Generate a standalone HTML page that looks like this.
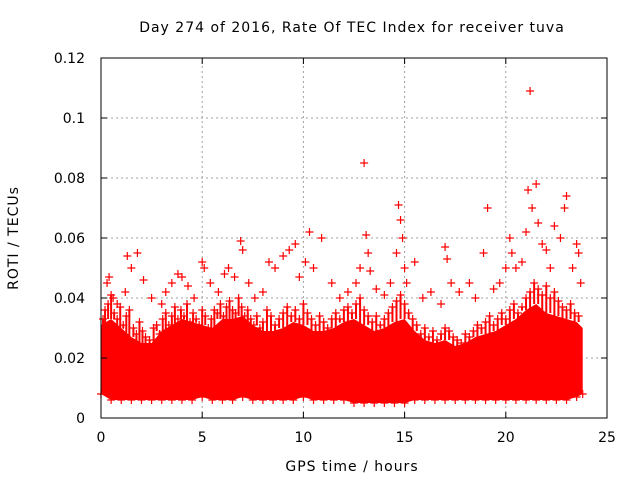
<!DOCTYPE html>
<html><head><meta charset="utf-8"><style>
body{margin:0;background:#fff}
svg text{font-family:"DejaVu Sans","Liberation Sans",sans-serif;font-size:14px;fill:#000}
.sp{letter-spacing:1px}
</style></head><body>
<svg width="640" height="480" id="c" xmlns="http://www.w3.org/2000/svg">
<text class="sp" x="352" y="32" text-anchor="middle">Day 274 of 2016, Rate Of TEC Index for receiver tuva</text>
<text class="sp" x="352" y="471" text-anchor="middle">GPS time / hours</text>
<text class="sp" transform="translate(18,238) rotate(-90)" text-anchor="middle">ROTI / TECUs</text>
<g id="grid"></g><g id="band"></g><g id="pts"></g><g id="axes"></g>
</svg>
<script>
const xTicks=[0,5,10,15,20,25];
const yTicks=[0,0.02,0.04,0.06,0.08,0.1,0.12];
const yTickLabels=["0","0.02","0.04","0.06","0.08","0.1","0.12"];
// dense band: hour, lower, upper ROTI
const bandHours=[0,0.5,1,1.5,2,2.5,3,3.5,4,4.5,5,5.5,6,6.5,7,7.5,8,8.5,9,9.5,10,10.5,11,11.5,12,12.5,13,13.5,14,14.5,15,15.5,16,16.5,17,17.5,18,18.5,19,19.5,20,20.5,21,21.5,22,22.5,23,23.5,23.8];
const bandLow=[0.008,0.006,0.006,0.006,0.006,0.006,0.006,0.006,0.006,0.006,0.007,0.006,0.006,0.006,0.007,0.006,0.006,0.006,0.006,0.006,0.007,0.006,0.006,0.006,0.006,0.005,0.005,0.005,0.005,0.005,0.005,0.006,0.006,0.006,0.006,0.006,0.006,0.006,0.006,0.006,0.006,0.006,0.006,0.006,0.006,0.006,0.006,0.007,0.008];
const bandHigh=[0.031,0.033,0.03,0.027,0.025,0.025,0.029,0.031,0.033,0.032,0.031,0.03,0.033,0.033,0.034,0.031,0.029,0.029,0.03,0.032,0.031,0.029,0.029,0.03,0.032,0.033,0.031,0.029,0.03,0.032,0.033,0.029,0.026,0.025,0.026,0.024,0.025,0.027,0.028,0.029,0.031,0.033,0.036,0.038,0.035,0.034,0.033,0.032,0.03];
const ptHours=[0.3,0.4,0.6,0.8,1.2,1.5,1.3,1.8,2.1,2.5,3,3.2,3.5,3.8,4,4.3,4.6,5,5.1,5.4,5.8,6.1,6.3,6.6,6.9,7,7.3,7.6,8,8.3,8.6,9,9.3,9.6,9.8,10.1,10.3,10.5,10.9,11.4,11.8,12.2,12.6,12.8,13,13.1,13.2,13.3,13.6,14,14.3,14.6,14.7,14.8,14.9,15,15.1,15.5,15.9,16.3,16.8,17,17.1,17.3,17.7,18.2,18.5,18.9,19.1,19.4,19.7,20,20.3,20.2,20.5,20.8,21,21.1,21.2,21.3,21.5,21.6,21.8,22,22.2,22.4,22.7,22.9,23,23.3,23.5,23.6,23.7];
const ptValues=[0.045,0.047,0.04,0.038,0.042,0.05,0.054,0.055,0.046,0.04,0.038,0.042,0.045,0.048,0.047,0.044,0.04,0.052,0.05,0.045,0.042,0.048,0.05,0.047,0.059,0.056,0.045,0.04,0.042,0.052,0.05,0.054,0.056,0.058,0.047,0.052,0.062,0.05,0.06,0.045,0.04,0.042,0.045,0.05,0.085,0.061,0.055,0.049,0.043,0.041,0.045,0.055,0.071,0.066,0.06,0.05,0.045,0.052,0.04,0.042,0.038,0.057,0.053,0.045,0.042,0.045,0.04,0.055,0.07,0.043,0.045,0.05,0.055,0.06,0.05,0.052,0.062,0.076,0.109,0.07,0.078,0.065,0.058,0.056,0.05,0.064,0.06,0.07,0.074,0.05,0.058,0.055,0.045];
// mid-level scatter just above the dense band
const midHours=[0.1,0.2,0.35,0.5,0.65,0.8,0.95,1.1,1.25,1.4,1.6,1.75,1.9,2.05,2.2,2.4,2.6,2.75,2.9,3.05,3.2,3.35,3.5,3.65,3.8,3.95,4.1,4.25,4.4,4.55,4.7,4.85,5.0,5.15,5.3,5.45,5.6,5.75,5.9,6.05,6.2,6.35,6.5,6.65,6.8,6.95,7.1,7.25,7.4,7.55,7.7,7.85,8.0,8.2,8.4,8.6,8.8,9.0,9.2,9.4,9.6,9.8,10.0,10.2,10.4,10.6,10.8,11.0,11.2,11.4,11.6,11.8,12.0,12.2,12.4,12.6,12.8,13.0,13.2,13.4,13.6,13.8,14.0,14.2,14.4,14.6,14.8,15.0,15.2,15.4,15.6,15.8,16.0,16.2,16.4,16.6,16.8,17.0,17.2,17.4,17.6,17.8,18.0,18.2,18.4,18.6,18.8,19.0,19.2,19.4,19.6,19.8,20.0,20.2,20.4,20.6,20.8,21.0,21.2,21.4,21.6,21.8,22.0,22.2,22.4,22.6,22.8,23.0,23.2,23.4,23.6];
const midValues=[0.033,0.036,0.038,0.041,0.035,0.033,0.037,0.031,0.034,0.036,0.03,0.028,0.032,0.029,0.027,0.026,0.03,0.031,0.028,0.033,0.035,0.031,0.034,0.037,0.033,0.036,0.034,0.038,0.032,0.035,0.033,0.031,0.036,0.034,0.03,0.033,0.036,0.035,0.038,0.034,0.037,0.039,0.036,0.035,0.04,0.037,0.034,0.036,0.033,0.031,0.034,0.03,0.032,0.036,0.034,0.031,0.033,0.035,0.037,0.034,0.036,0.033,0.038,0.035,0.033,0.031,0.034,0.032,0.03,0.033,0.035,0.033,0.036,0.037,0.035,0.038,0.04,0.036,0.034,0.032,0.034,0.031,0.033,0.035,0.037,0.039,0.041,0.038,0.035,0.033,0.031,0.028,0.03,0.027,0.029,0.026,0.028,0.03,0.029,0.027,0.026,0.025,0.028,0.027,0.029,0.031,0.03,0.032,0.034,0.031,0.033,0.035,0.033,0.036,0.038,0.035,0.037,0.04,0.042,0.045,0.043,0.041,0.044,0.04,0.042,0.039,0.037,0.036,0.038,0.035,0.034,0.036,0.033];
const NS="http://www.w3.org/2000/svg";
const X0=101,X1=607,Y0=418,Y1=58;
const sx=v=>X0+(v-0)/(25-0)*(X1-X0);
const sy=v=>Y0-(v-0)/(0.12-0)*(Y0-Y1);
function mk(t,a,p){const e=document.createElementNS(NS,t);for(const k in a)e.setAttribute(k,a[k]);p.appendChild(e);return e;}
const grid=document.getElementById('grid'),axes=document.getElementById('axes'),band=document.getElementById('band'),pts=document.getElementById('pts');
xTicks.forEach(t=>{const x=sx(t);
 if(t>0&&t<25){const g=mk('line',{x1:x,x2:x,y1:Y0,y2:Y1,stroke:'#a0a0a0','stroke-dasharray':'2,3'},grid);
 
 }
 mk('line',{x1:x,x2:x,y1:Y0,y2:Y0-6,stroke:'#000'},axes);mk('line',{x1:x,x2:x,y1:Y1,y2:Y1+6,stroke:'#000'},axes);
 const l=mk('text',{x:x,y:Y0+24,'text-anchor':'middle'},axes);l.textContent=t;
 
 });
yTicks.forEach((t,i)=>{const y=sy(t);
 if(i>0&&i<yTicks.length-1){const g=mk('line',{x1:X0,x2:X1,y1:y,y2:y,stroke:'#a0a0a0','stroke-dasharray':'2,3'},grid);
 
 }
 mk('line',{x1:X0,x2:X0+6,y1:y,y2:y,stroke:'#000'},axes);mk('line',{x1:X1,x2:X1-6,y1:y,y2:y,stroke:'#000'},axes);
 const l=mk('text',{x:X0-16,y:y+5,'text-anchor':'end'},axes);l.textContent=yTickLabels[i];
 
 });
const fr=mk('rect',{x:X0,y:Y1,width:X1-X0,height:Y0-Y1,fill:'none',stroke:'#000'},axes);


let d='';bandHours.forEach((h,i)=>{d+=(i?'L':'M')+sx(h)+','+sy(bandHigh[i]);});
for(let i=bandHours.length-1;i>=0;i--)d+='L'+sx(bandHours[i])+','+sy(bandLow[i]);
const bp=mk('path',{d:d+'Z',fill:'#ff0000'},band);


function plus(x,y,g,nm){
 const m=mk('path',{d:`M${x-4},${y}H${x+4}M${x},${y-4}V${y+4}`,stroke:'#f00','stroke-width':1.2},g);
 
 }
bandHours.forEach((h,i)=>{plus(sx(h),sy(bandLow[i]),band,'band-edge-point');});
midHours.forEach((h,i)=>{
 const x=sx(h),y=sy(midValues[i]);
 const s=mk('line',{x1:x,x2:x,y1:y,y2:sy(bandHigh[Math.min(bandHours.length-1,Math.round(h*2))]),stroke:'#f00','stroke-width':2},pts);
 
 
 plus(x,y,pts,'roti-point-mid');});
ptHours.forEach((h,i)=>{plus(sx(h),sy(ptValues[i]),pts,'roti-point');});
</script>
</body></html>
